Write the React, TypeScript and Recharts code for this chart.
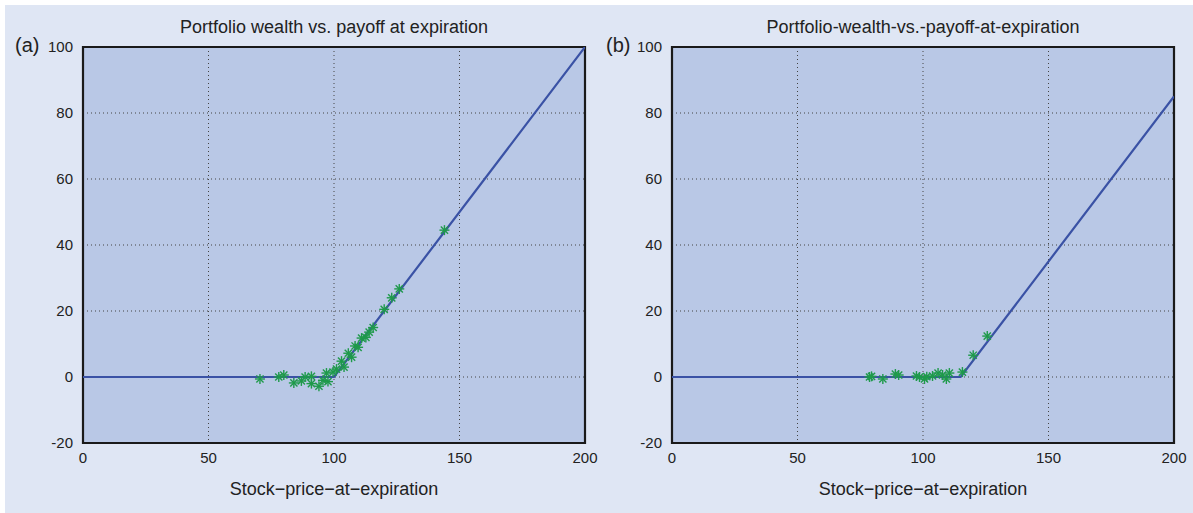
import { ComposedChart, Line, Scatter, XAxis, YAxis, CartesianGrid, ReferenceArea, Label } from "recharts";

// payoff line at expiration (kinked)
const payoffPriceA = [0, 100, 200];
const payoffValueA = [0, 0, 100];
const payoffPriceB = [0, 115, 200];
const payoffValueB = [0, 0, 85];

// simulated portfolio wealth (green stars)
const simPriceA = [70.5, 78, 80, 84, 87, 88.5, 91, 91, 94, 95.6, 97, 97.6, 99.6, 101, 103, 104, 105.7, 107, 108.4, 109.6, 111, 112.7, 114, 115.6, 120, 123, 126, 144];
const simWealthA = [-0.6, 0, 0.6, -1.8, -1.2, 0, 0.2, -2, -2.8, -1, 1.2, -1.4, 1.5, 2.4, 4.8, 3, 7.2, 6, 9.4, 9, 11.8, 12, 13.6, 15, 20.5, 24, 26.7, 44.5];
const simPriceB = [78.7, 79.5, 84, 89, 90.3, 97.4, 98.6, 100.6, 101.5, 103.8, 106, 107.8, 109.3, 110.5, 115.7, 120, 125.6];
const simWealthB = [0, 0.2, -0.6, 0.9, 0.6, 0.3, 0, -0.6, 0.1, 0.3, 1.2, 0.6, -0.6, 1.2, 1.5, 6.6, 12.4];

const xTicks = [0, 50, 100, 150, 200];
const yTicks = [-20, 0, 20, 40, 60, 80, 100];

const FONT = "'Liberation Sans', Arial, Helvetica, sans-serif";
const PLOT_BG = "#b9c8e6";
const LINE = "#3a52a5";
const STAR = "#1f9a4b";

const zip = (xs: number[], ys: number[]) => xs.map((x, i) => ({ x, y: ys[i] }));

function Star(props: any) {
  const { cx, cy } = props;
  if (cx == null || cy == null) return null;
  const r = 5;
  const d = r * 0.72;
  return (
    <g stroke={STAR} strokeWidth={1.4}>
      <line x1={cx - r} y1={cy} x2={cx + r} y2={cy} />
      <line x1={cx} y1={cy - r} x2={cx} y2={cy + r} />
      <line x1={cx - d} y1={cy - d} x2={cx + d} y2={cy + d} />
      <line x1={cx - d} y1={cy + d} x2={cx + d} y2={cy - d} />
    </g>
  );
}

function Panel({ line, points }: { line: { x: number; y: number }[]; points: { x: number; y: number }[] }) {
  const tick = { fontSize: 15, fontFamily: FONT, fill: "#222" };
  return (
    <ComposedChart width={600} height={513} margin={{ top: 47, right: 15, bottom: 10, left: 0 }}>
      <CartesianGrid fill={PLOT_BG} fillOpacity={1} stroke="#444" strokeDasharray="1 3" />
      <XAxis
        type="number"
        dataKey="x"
        domain={[0, 200]}
        ticks={xTicks}
        height={60}
        tick={tick}
        tickSize={0}
        tickMargin={9}
        axisLine={false}
        allowDataOverflow
      >
        <Label
          value="Stock−price−at−expiration"
          position="insideBottom"
          offset={8}
          style={{ fontSize: 18, fontFamily: FONT, fill: "#222" }}
        />
      </XAxis>
      <YAxis
        type="number"
        dataKey="y"
        domain={[-20, 100]}
        ticks={yTicks}
        width={83}
        tick={tick}
        tickSize={0}
        tickMargin={10}
        axisLine={false}
        allowDataOverflow
      />
      <ReferenceArea x1={0} x2={200} y1={-20} y2={100} fill="none" stroke="#1a1a1a" strokeWidth={2.2} />
      <Line data={line} dataKey="y" type="linear" stroke={LINE} strokeWidth={2.2} dot={false} isAnimationActive={false} />
      <Scatter data={points} dataKey="y" shape={<Star />} isAnimationActive={false} />
    </ComposedChart>
  );
}

export default function App() {
  const titleStyle: React.CSSProperties = {
    position: "absolute",
    top: 17,
    width: 502,
    textAlign: "center",
    fontSize: 18,
    fontFamily: FONT,
    color: "#222",
  };
  const tagStyle: React.CSSProperties = {
    position: "absolute",
    top: 34,
    fontSize: 20,
    fontFamily: FONT,
    color: "#222",
  };
  return (
    <div style={{ position: "absolute", left: 0, top: 0, width: 1193, height: 513, background: "#fff", overflow: "hidden" }}>
      <div style={{ position: "absolute", left: 5, top: 5, width: 1188, height: 508, background: "#dfe6f4" }} />
      <div style={{ position: "absolute", left: 0, top: 0 }}>
        <Panel line={zip(payoffPriceA, payoffValueA)} points={zip(simPriceA, simWealthA)} />
      </div>
      <div style={{ position: "absolute", left: 589, top: 0 }}>
        <Panel line={zip(payoffPriceB, payoffValueB)} points={zip(simPriceB, simWealthB)} />
      </div>
      <div style={{ ...titleStyle, left: 83 }}>Portfolio wealth vs. payoff at expiration</div>
      <div style={{ ...titleStyle, left: 672 }}>Portfolio-wealth-vs.-payoff-at-expiration</div>
      <div style={{ ...tagStyle, left: 15 }}>(a)</div>
      <div style={{ ...tagStyle, left: 606 }}>(b)</div>
    </div>
  );
}
